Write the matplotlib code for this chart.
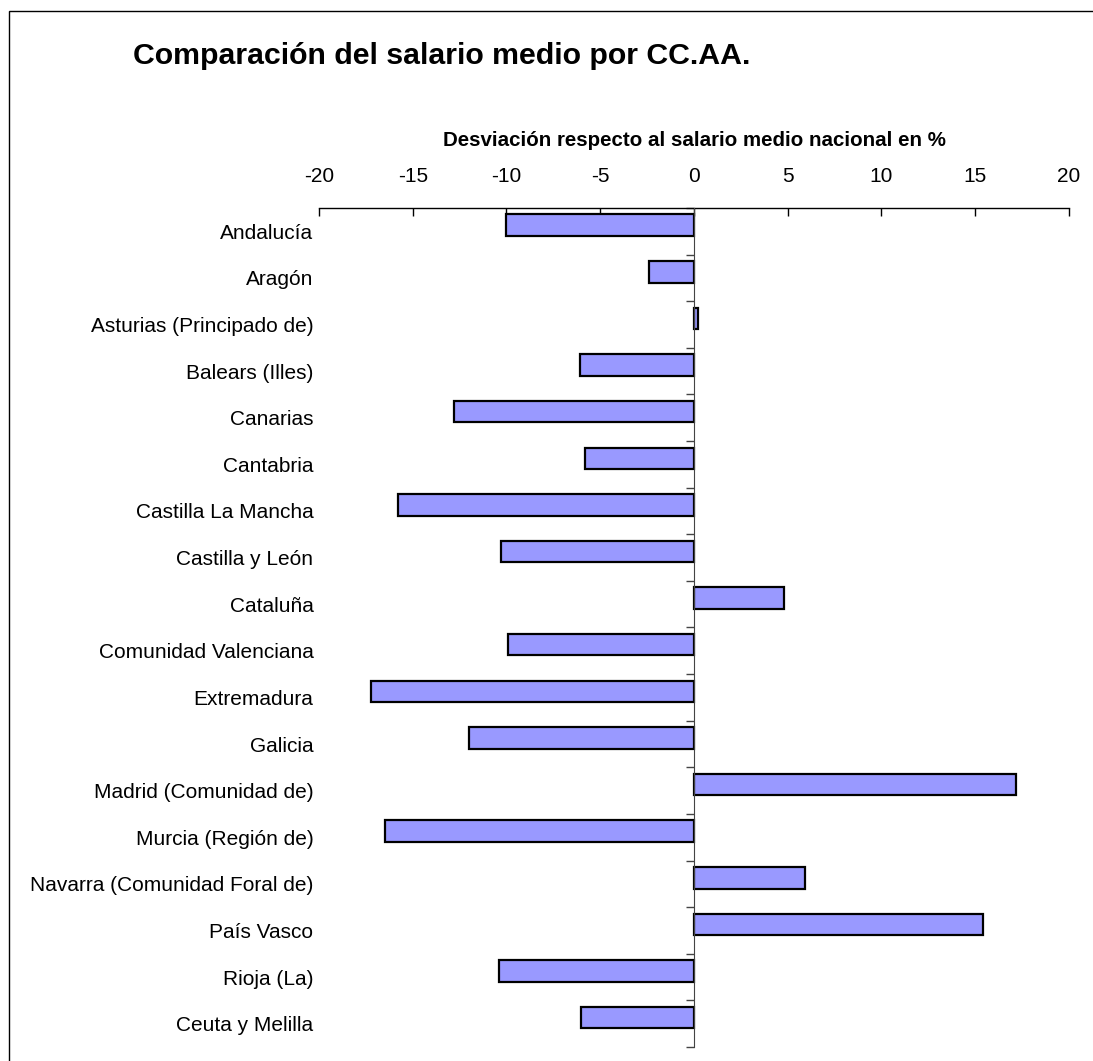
import matplotlib
matplotlib.use('Agg')
import matplotlib.pyplot as plt
from matplotlib.patches import Rectangle
from matplotlib.ticker import FixedLocator

plt.rcParams['font.family'] = ['Liberation Sans', 'DejaVu Sans']

regiones = ['Andalucía', 'Aragón', 'Asturias (Principado de)', 'Balears (Illes)',
            'Canarias', 'Cantabria', 'Castilla La Mancha', 'Castilla y León',
            'Cataluña', 'Comunidad Valenciana', 'Extremadura', 'Galicia',
            'Madrid (Comunidad de)', 'Murcia (Región de)',
            'Navarra (Comunidad Foral de)', 'País Vasco', 'Rioja (La)',
            'Ceuta y Melilla']
desviacion = [-10.0, -2.4, 0.2, -6.1, -12.8, -5.8, -15.8, -10.3, 4.8, -9.9,
              -17.2, -12.0, 17.2, -16.5, 5.9, 15.4, -10.4, -6.0]
xticks = [-20, -15, -10, -5, 0, 5, 10, 15, 20]

fig = plt.figure(figsize=(10.93, 10.61), dpi=100, facecolor='white')
ax = fig.add_axes([0.2918, 0.0132, 0.978 - 0.2918, 0.804 - 0.0132])

pos = list(range(len(regiones)))
# bars sit a little above the middle of each band, as in the original
ax.barh([p - 0.13 for p in pos], desviacion, height=0.46, color='#9999FF',
        edgecolor='black', linewidth=1.6, zorder=2)

ax.set_xlim(-20, 20)
ax.set_ylim(len(regiones) - 0.5, -0.5)
ax.xaxis.set_ticks_position('top')
ax.xaxis.set_label_position('top')
ax.set_xticks(xticks)
ax.set_xticklabels([str(t) for t in xticks])
ax.tick_params(axis='x', direction='in', length=6, width=1, pad=16, labelsize=15)
ax.set_xlabel('Desviación respecto al salario medio nacional en %',
              fontsize=14.8, fontweight='bold', labelpad=15)

ax.set_yticks(pos)
ax.set_yticklabels(regiones)
ax.yaxis.set_minor_locator(FixedLocator([p - 0.5 for p in pos] + [len(pos) - 0.5]))
ax.tick_params(axis='y', which='major', length=0, pad=274, labelsize=15)
ax.tick_params(axis='y', which='minor', direction='out', length=6, width=1,
               color='#444444')
for lbl in ax.get_yticklabels():
    lbl.set_horizontalalignment('right')

ax.spines['right'].set_visible(False)
ax.spines['bottom'].set_visible(False)
ax.spines['left'].set_position(('data', 0))
ax.spines['left'].set_color('#444444')
ax.spines['left'].set_zorder(3)
ax.spines['top'].set_linewidth(1)

fig.text(0.122, 1 - 64 / 1061, 'Comparación del salario medio por CC.AA.',
         fontsize=21.8, fontweight='bold', ha='left', va='baseline')

fig.patches.append(Rectangle((0.0082, -0.01), 1.0, 0.9996, transform=fig.transFigure,
                             fill=False, edgecolor='black', linewidth=1))

fig.savefig('out.png', dpi=100, facecolor='white')
